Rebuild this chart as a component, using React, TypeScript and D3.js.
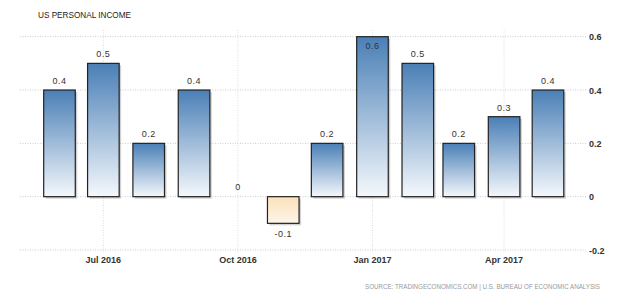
import React from "react";
import * as d3 from "d3";

const months = ["2016-06-01","2016-07-01","2016-08-01","2016-09-01","2016-10-01","2016-11-01","2016-12-01","2017-01-01","2017-02-01","2017-03-01","2017-04-01","2017-05-01"];
const values = [0.4, 0.5, 0.2, 0.4, 0, -0.1, 0.2, 0.6, 0.5, 0.2, 0.3, 0.4];
const yTicks = [-0.2, 0, 0.2, 0.4, 0.6];
const xTickDates = ["2016-07-01","2016-10-01","2017-01-01","2017-04-01"];
const title = "US PERSONAL INCOME";
const source = "SOURCE: TRADINGECONOMICS.COM | U.S. BUREAU OF ECONOMIC ANALYSIS";

const W = 640, H = 298;
const parse = d3.utcParse("%Y-%m-%d");
const fmtTick = d3.utcFormat("%b %Y");
const fmtNum = (v: number) => String(v);

export default function App() {
  const x = d3.scaleUtc()
    .domain([parse("2016-05-05")!, parse("2017-05-27")!])
    .range([20, 586]);
  const y = d3.scaleLinear().domain([-0.2, 0.6]).range([250, 36.7]);
  const monthW = x(parse("2016-07-01")!) - x(parse("2016-06-01")!);
  const bw = monthW * 0.72;
  const font = "'Liberation Sans', Arial, sans-serif";
  const y0 = y(0);

  return (
    <svg width={W} height={H} style={{ position: "absolute", left: 0, top: 0, background: "#fff" }}>
      <defs>
        <linearGradient id="gPos" x1="0" y1="0" x2="0" y2="1">
          <stop offset="0" stopColor="#4a7fb6" />
          <stop offset="1" stopColor="#f4f8fc" />
        </linearGradient>
        <linearGradient id="gNeg" x1="0" y1="0" x2="0" y2="1">
          <stop offset="0" stopColor="#fbe1b8" />
          <stop offset="1" stopColor="#fdf5e9" />
        </linearGradient>
      </defs>
      <text x={38} y={18} fontFamily={font} fontSize={9.5} fill="#222" textLength={93} lengthAdjust="spacingAndGlyphs">{title}</text>
      {yTicks.map((t) => (
        <g key={t}>
          <line x1={20} x2={586} y1={y(t)} y2={y(t)} stroke="#ccc" strokeDasharray="1,1.5" strokeWidth={1} />
          <text x={589} y={y(t) + 3.5} fontFamily={font} fontSize={9} fill="#333" fontWeight="bold">{fmtNum(t)}</text>
        </g>
      ))}
      {xTickDates.map((d) => {
        const xx = x(parse(d)!);
        return (
          <g key={d}>
            <line x1={xx} x2={xx} y1={30} y2={253} stroke="#ddd" strokeDasharray="1,1.5" strokeWidth={1} />
            <text x={xx} y={263} textAnchor="middle" fontFamily={font} fontSize={9} fill="#333" fontWeight="bold">{fmtTick(parse(d)!)}</text>
          </g>
        );
      })}
      {months.map((m, i) => {
        const v = values[i];
        const cx = x(parse(m)!);
        const label = fmtNum(v);
        if (v === 0) {
          return (
            <text key={m} x={cx} y={y0 - 7} textAnchor="middle" fontFamily={font} fontSize={9} fill="#333" letterSpacing={0.5}>{label}</text>
          );
        }
        const top = Math.min(y(v), y0);
        const h = Math.abs(y(v) - y0);
        const pos = v > 0;
        const insideTop = pos && top < 50;
        const ly = pos ? (insideTop ? top + 12 : top - 6) : top + h + 14;
        return (
          <g key={m}>
            <rect x={cx - bw / 2 + 2} y={top + 2} width={bw} height={h} fill="rgba(0,0,0,0.18)" />
            <rect x={cx - bw / 2} y={top} width={bw} height={h} fill={pos ? "url(#gPos)" : "url(#gNeg)"} stroke="#222" strokeWidth={1.2} />
            <text x={cx} y={ly} textAnchor="middle" fontFamily={font} fontSize={9} fill="#333" letterSpacing={0.5}>{label}</text>
          </g>
        );
      })}
      <text x={600} y={289} textAnchor="end" fontFamily={font} fontSize={7} fill="#999" textLength={235} lengthAdjust="spacingAndGlyphs">{source}</text>
    </svg>
  );
}
